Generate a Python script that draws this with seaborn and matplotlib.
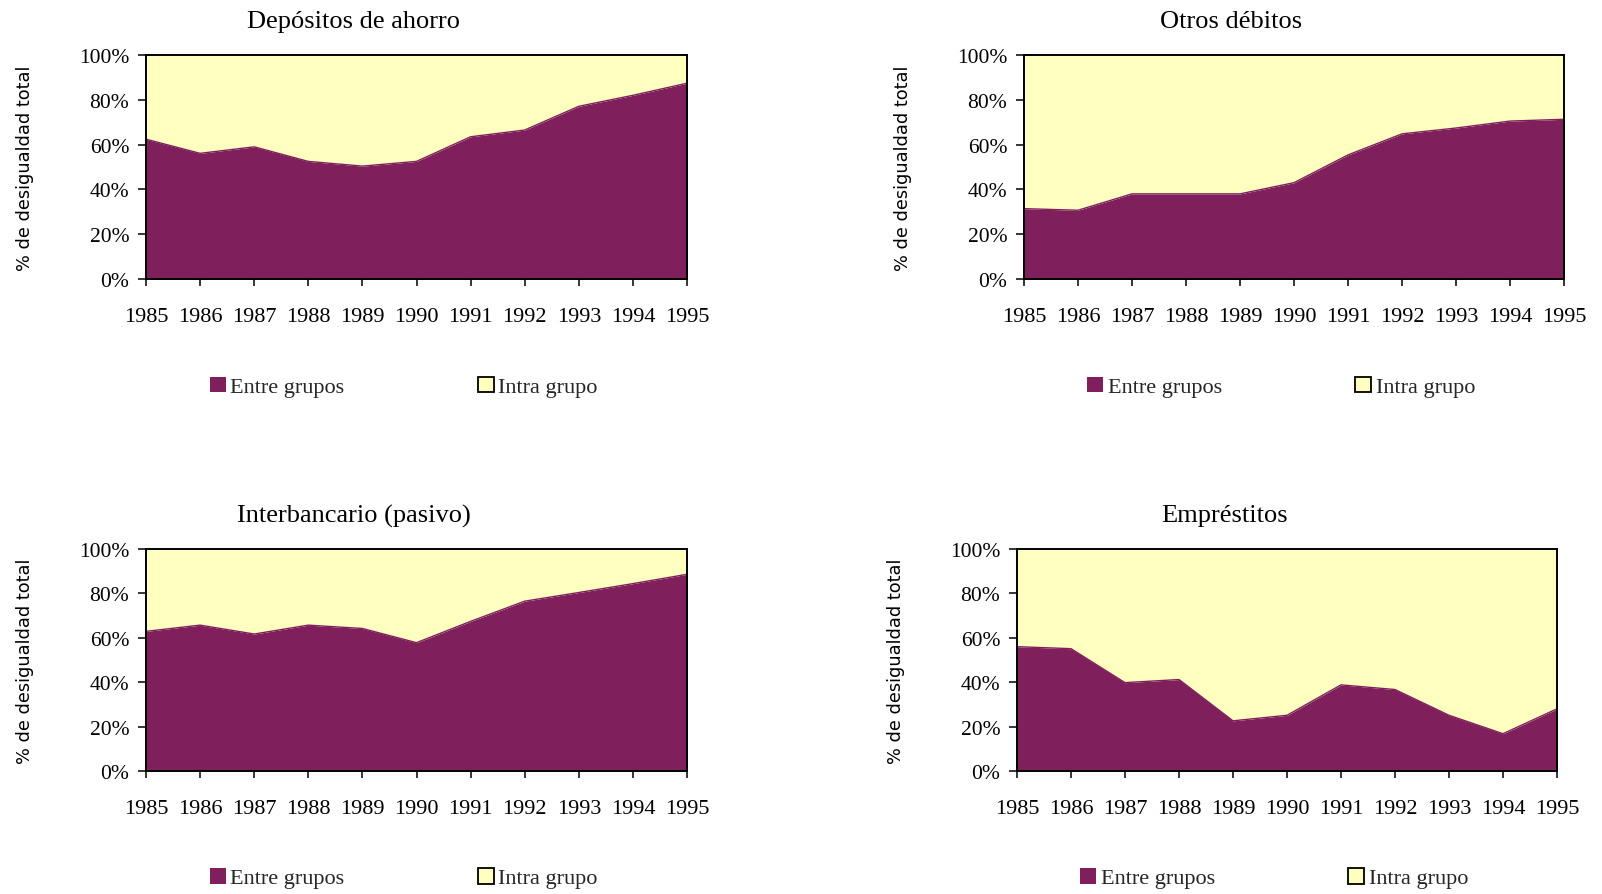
import matplotlib
matplotlib.use("Agg")
import matplotlib.pyplot as plt
from matplotlib.patches import Rectangle
from matplotlib.ticker import PercentFormatter
import numpy as np
import pandas as pd
import seaborn as sns

# Years on the horizontal axis
years = [1985, 1986, 1987, 1988, 1989, 1990, 1991, 1992, 1993, 1994, 1995]

# Share of total inequality explained by between-group differences (%)
depositos_entre = [62.4, 56.1, 59.0, 52.5, 50.4, 52.5, 63.5, 66.5, 77.1, 82.0, 87.4]
otros_entre = [31.4, 30.7, 38.0, 38.0, 38.0, 43.0, 55.4, 64.8, 67.4, 70.5, 71.3]
interbancario_entre = [62.9, 65.7, 61.7, 65.7, 64.2, 57.8, 67.4, 76.5, 80.4, 84.4, 88.6]
emprestitos_entre = [56.0, 55.1, 39.8, 41.2, 22.6, 25.1, 38.8, 36.7, 25.1, 16.8, 28.0]

titles = ["Depósitos de ahorro", "Otros débitos",
          "Interbancario (pasivo)", "Empréstitos"]
series_entre = [depositos_entre, otros_entre, interbancario_entre, emprestitos_entre]
legend_labels = ["Entre grupos", "Intra grupo"]
ylabel_text = "% de desigualdad total"

PURPLE = "#7f1f5c"
YELLOW = "#ffffc0"

sns.set_theme(style="white")
plt.rcParams["font.family"] = ["Liberation Serif", "DejaVu Serif"]

fig = plt.figure(figsize=(16.02, 8.95), dpi=100)

W, H = 1602, 895
# axes boxes in pixels: (left, top, right, bottom)
boxes = [(146, 56, 687, 280), (1024, 56, 1564, 280),
         (146, 550, 687, 772), (1017, 550, 1557, 772)]

for box, title, entre in zip(boxes, titles, series_entre):
    l, t, r, b = box
    ax = fig.add_axes([l / W, (H - b) / H, (r - l) / W, (b - t) / H])
    df = pd.DataFrame({"year": years, "entre": entre})
    df["intra"] = 100.0 - df["entre"]
    df["total"] = df["entre"] + df["intra"]

    ax.fill_between(df["year"], 0, df["entre"], color=PURPLE, lw=0, zorder=1)
    ax.fill_between(df["year"], df["entre"], df["total"], color=YELLOW, lw=0, zorder=1)
    sns.lineplot(data=df, x="year", y="entre", ax=ax, color=PURPLE, lw=1.0,
                 zorder=2, legend=False)

    ax.set_xlim(years[0], years[-1])
    ax.set_ylim(0, 100)
    ax.set_xticks(years)
    ax.set_xticklabels([str(y) for y in years])
    ax.set_yticks(np.arange(0, 101, 20))
    ax.yaxis.set_major_formatter(PercentFormatter(decimals=0))

    for sp in ax.spines.values():
        sp.set_visible(True)
        sp.set_color("black")
        sp.set_linewidth(1.4)
    ax.tick_params(axis="x", direction="inout", length=10, width=1.1,
                   colors="black", pad=15, labelsize=16, bottom=True)
    ax.tick_params(axis="y", direction="out", length=6, width=1.1,
                   colors="black", pad=6, labelsize=15.5, left=True)

    ax.set_xlabel("")
    ax.set_ylabel(ylabel_text, family="DejaVu Sans", fontsize=12.8,
                  color="black")
    ax.yaxis.set_label_coords(-0.207, 0.5)
    ax.set_title(title, fontsize=19, color="black", pad=20, x=0.384)

    handles = [Rectangle((0, 0), 1, 1, facecolor=PURPLE, edgecolor=PURPLE, lw=0),
               Rectangle((0, 0), 1, 1, facecolor=YELLOW, edgecolor="black", lw=1.3)]
    ax.legend(handles, legend_labels, loc="center", bbox_to_anchor=(0.476, -0.482),
              ncol=2, frameon=False, fontsize=16, handlelength=0.72,
              handleheight=0.72, handletextpad=0.2, columnspacing=6.0,
              borderaxespad=0)

fig.savefig("out.png", dpi=100)
